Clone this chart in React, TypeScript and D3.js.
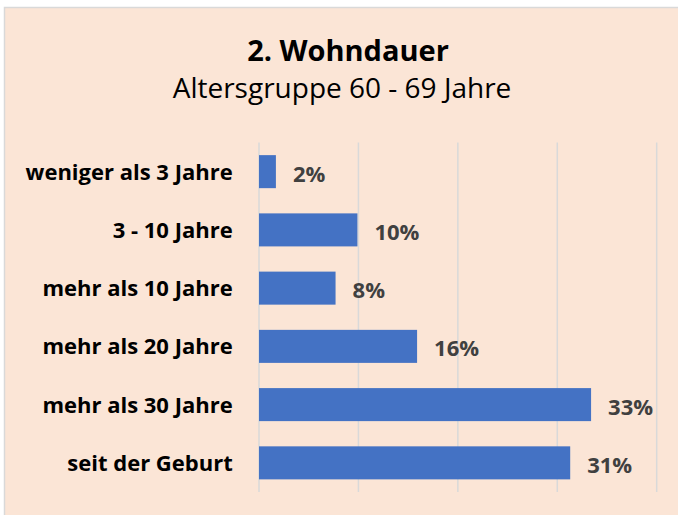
import React from 'react';
import * as d3 from 'd3';

const categories = [
  'weniger als 3 Jahre',
  '3 - 10 Jahre',
  'mehr als 10 Jahre',
  'mehr als 20 Jahre',
  'mehr als 30 Jahre',
  'seit der Geburt',
];
const values = [1.7, 9.9, 7.7, 15.9, 33.4, 31.3];
const ticks = [0, 10, 20, 30, 40];

const title = '2. Wohndauer';
const subtitle = 'Altersgruppe 60 - 69 Jahre';

const W = 678;
const H = 515;
const FONT = '"Open Sans", Lato, sans-serif';

export default function App() {
  const x = d3.scaleLinear().domain([0, 40]).range([259, 656.7]);
  const y = d3
    .scaleBand<string>()
    .domain(categories)
    .range([142.5, 492])
    .paddingInner(0.433)
    .paddingOuter(0.217);
  const fmt = (v: number) => d3.format('.0f')(v) + '%';

  return (
    <svg
      width={W}
      height={H}
      viewBox={`0 0 ${W} ${H}`}
      style={{ position: 'absolute', top: 0, left: 0, background: '#ffffff' }}
    >
      {/* chart frame, runs off the right and bottom edges */}
      <rect x={4.5} y={7.5} width={W + 10} height={H + 10} fill="#FBE5D6" stroke="#D9D9D9" strokeWidth={1.5} />

      <text x={348} y={61} textAnchor="middle" fontFamily={FONT} fontWeight={700} fontSize={29} fill="#000">
        {title}
      </text>
      <text x={342} y={98.3} textAnchor="middle" fontFamily={FONT} fontSize={28} fill="#000">
        {subtitle}
      </text>

      {/* gridlines */}
      <g>
        {ticks.map((t) => (
          <line
            key={t}
            x1={x(t)}
            x2={x(t)}
            y1={142.5}
            y2={492}
            stroke="#D9D9D9"
            strokeWidth={1.5}
          />
        ))}
      </g>

      {/* bars */}
      <g>
        {categories.map((c, i) => (
          <rect
            key={c}
            x={x(0)}
            y={y(c)}
            width={x(values[i]) - x(0)}
            height={y.bandwidth()}
            fill="#4472C4"
          />
        ))}
      </g>

      {/* value labels */}
      <g>
        {categories.map((c, i) => (
          <text
            key={c}
            x={x(values[i]) + 17}
            y={(y(c) as number) + y.bandwidth() / 2 + 10}
            fontFamily={FONT}
            fontWeight={700}
            fontSize={22}
            fill="#404040"
          >
            {fmt(values[i])}
          </text>
        ))}
      </g>

      {/* category labels */}
      <g>
        {categories.map((c) => (
          <text
            key={c}
            x={232.7}
            y={(y(c) as number) + y.bandwidth() / 2 + 8}
            textAnchor="end"
            fontFamily={FONT}
            fontWeight={700}
            fontSize={22}
            fill="#000"
          >
            {c}
          </text>
        ))}
      </g>
    </svg>
  );
}
